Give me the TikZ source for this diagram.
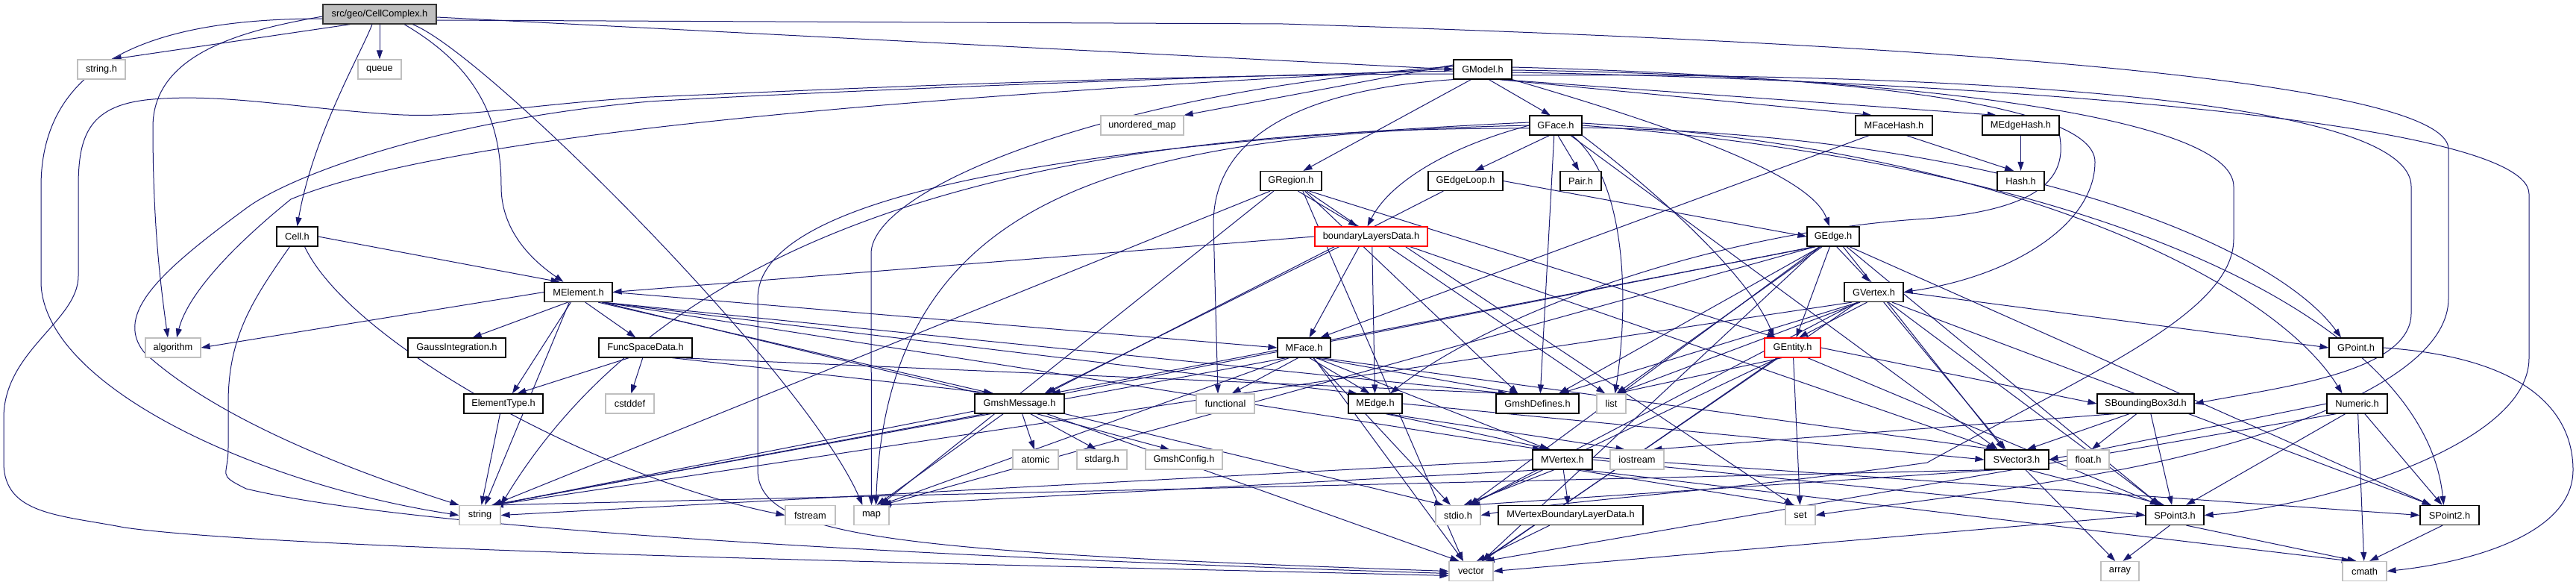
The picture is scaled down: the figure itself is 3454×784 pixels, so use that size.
\documentclass[tikz,border=0pt]{standalone}
\usepackage{fontspec}
\setmainfont{Liberation Sans}
\usetikzlibrary{arrows.meta,backgrounds,calc}
\definecolor{edgecol}{RGB}{25,25,112}
\definecolor{sysgray}{RGB}{191,191,191}
\definecolor{rootfill}{RGB}{191,191,191}
\tikzset{
  nd/.style={draw=black, fill=white, line width=1.2pt, minimum height=26pt, inner sep=0pt, font=\fontsize{12.8pt}{15pt}\selectfont, text=black},
  sys/.style={nd, draw=sysgray},
  redbox/.style={nd, draw=red},
  rootbox/.style={nd, fill=rootfill, draw=black!80},
  edge/.style={draw=edgecol, line width=1pt, -{Triangle[length=12pt,width=8pt]}},
}
\newcommand\ed[2]{\draw[edge] let \p1=(#1.south), \p2=(#2.north), \p3=(#1.south east), \p4=(#2.north east),
  \n1={(\x3-\x1-6)*((\x2-\x1)/(abs(\x2-\x1)+300))},
  \n2={(\x4-\x2-6)*((\x1-\x2)/(abs(\x1-\x2)+300))}
  in ($(#1.south)+(\n1,0)$) -- ($(#2.north)+(\n2,0)$);}
\begin{document}
\begin{tikzpicture}[x=1pt,y=-1pt]
\useasboundingbox (0,0) rectangle (3454,784);
% nodes
\node[rootbox, minimum width=152pt] (cc) at (509,19) {src/geo/CellComplex.h};
\node[sys, minimum width=64pt] (stringh) at (136,93) {string.h};
\node[sys, minimum width=58pt] (queue) at (509,93) {queue};
\node[nd, minimum width=78pt] (gmodel) at (1988,93) {GModel.h};
\node[sys, minimum width=111pt] (umap) at (1531.5,168) {unordered\_map};
\node[nd, minimum width=70pt] (gface) at (2086,168) {GFace.h};
\node[nd, minimum width=103pt] (mfacehash) at (2539.5,168) {MFaceHash.h};
\node[nd, minimum width=103pt] (medgehash) at (2709.5,168) {MEdgeHash.h};
\node[nd, minimum width=82pt] (gregion) at (1731,242.5) {GRegion.h};
\node[nd, minimum width=100pt] (gedgeloop) at (1965,242.5) {GEdgeLoop.h};
\node[nd, minimum width=55pt] (pair) at (2119.5,242.5) {Pair.h};
\node[nd, minimum width=63pt] (hash) at (2709.5,242.5) {Hash.h};
\node[nd, minimum width=55pt] (cell) at (398.5,317) {Cell.h};
\node[redbox, minimum width=151pt] (bld) at (1838.5,317) {boundaryLayersData.h};
\node[nd, minimum width=70pt] (gedge) at (2458,317) {GEdge.h};
\node[nd, minimum width=91pt] (melement) at (775.5,391.5) {MElement.h};
\node[nd, minimum width=79pt] (gvertex) at (2512.5,391.5) {GVertex.h};
\node[sys, minimum width=74pt] (algorithm) at (232,466) {algorithm};
\node[nd, minimum width=131pt] (gauss) at (612.5,466) {GaussIntegration.h};
\node[nd, minimum width=125pt] (funcspace) at (865.5,466) {FuncSpaceData.h};
\node[nd, minimum width=71pt] (mface) at (1748.5,466) {MFace.h};
\node[redbox, minimum width=75pt] (gentity) at (2403.5,466) {GEntity.h};
\node[nd, minimum width=72pt] (gpoint) at (3159,466) {GPoint.h};
\node[nd, minimum width=106pt] (elemtype) at (675,541) {ElementType.h};
\node[sys, minimum width=65pt] (cstddef) at (844.5,541) {cstddef};
\node[nd, minimum width=120pt] (gmshmsg) at (1367,541) {GmshMessage.h};
\node[sys, minimum width=78pt] (functional) at (1643,541) {functional};
\node[nd, minimum width=72pt] (medge) at (1844,541) {MEdge.h};
\node[nd, minimum width=111pt] (gmshdef) at (2061.5,541) {GmshDefines.h};
\node[sys, minimum width=39pt] (list) at (2160.5,541) {list};
\node[nd, minimum width=130pt] (sbbox) at (2877,541) {SBoundingBox3d.h};
\node[nd, minimum width=81pt] (numeric) at (3160.5,541) {Numeric.h};
\node[sys, minimum width=61pt] (atomic) at (1388.5,616) {atomic};
\node[sys, minimum width=67pt] (stdarg) at (1477.5,616) {stdarg.h};
\node[sys, minimum width=103pt] (gmshconfig) at (1587.5,616) {GmshConfig.h};
\node[nd, minimum width=80pt] (mvertex) at (2095,616) {MVertex.h};
\node[sys, minimum width=72pt] (iostream) at (2195,616) {iostream};
\node[nd, minimum width=86pt] (svector) at (2704,616) {SVector3.h};
\node[sys, minimum width=56pt] (floath) at (2800,616) {float.h};
\node[sys, minimum width=55pt] (string) at (643.5,690.5) {string};
\node[sys, minimum width=67pt] (fstream) at (1086.5,690.5) {fstream};
\node[sys, minimum width=47pt] (map) at (1168.5,690.5) {map};
\node[sys, minimum width=60pt] (stdio) at (1955,690.5) {stdio.h};
\node[nd, minimum width=194pt] (mvbld) at (2106,690.5) {MVertexBoundaryLayerData.h};
\node[sys, minimum width=40pt] (set) at (2414,690.5) {set};
\node[nd, minimum width=78pt] (spoint3) at (2916,690.5) {SPoint3.h};
\node[nd, minimum width=79pt] (spoint2) at (3284.5,690.5) {SPoint2.h};
\node[sys, minimum width=59pt] (vector) at (1972.5,765.5) {vector};
\node[sys, minimum width=51pt] (array) at (2842.5,765.5) {array};
\node[sys, minimum width=59pt] (cmath) at (3170.5,765.5) {cmath};
% edges
\begin{pgfonlayer}{background}
% CellComplex
\ed{cc}{stringh}
\ed{cc}{queue}
\draw[edge] ([xshift=-10]cc.south) .. controls (485,70) and (420,180) .. (cell.north);
\draw[edge] ([xshift=33]cc.south) .. controls (640,90) and (672,160) .. (672,250) .. controls (672,320) and (730,360) .. ([xshift=-20]melement.north);
\draw[edge] ([xshift=44]cc.south) .. controls (650,70) and (1080,500) .. ([xshift=-12]map.north);
\draw[edge] ([yshift=-4]cc.east) -- (gmodel.west);
\draw[edge] ([yshift=-8]cc.east) -- (1720,32) .. controls (2300,50) and (3283,90) .. (3283,200) -- (3283,400) .. controls (3283,520) and (3000,600) .. (2840,630) .. controls (2650,665) and (2500,680) .. (set.east);
\draw[edge] ([yshift=-3]cc.west) .. controls (330,40) and (205,70) .. (205,170) .. controls (205,300) and (215,380) .. ([xshift=-7]algorithm.north);
\draw[edge] ([yshift=-6]cc.west) .. controls (250,25) and (55,60) .. (55,250) -- (55,380) .. controls (60,520) and (350,650) .. (string.west);
% Cell
\draw[edge] (cell.east) -- ([xshift=-25]melement.north);
\draw[edge] ([xshift=-10]cell.south) .. controls (340,400) and (306,450) .. (306,540) -- (306,600) .. controls (306,640) and (290,635) .. (330,655) .. controls (600,720) and (1500,755) .. ([yshift=-3]vector.west);
\draw[edge] ([xshift=10]cell.south) .. controls (470,460) and (800,640) .. (fstream.west);
% MElement
\draw[edge] (melement.west) -- (algorithm.east);
\ed{melement}{gauss}
\ed{melement}{funcspace}
\ed{melement}{elemtype}
\ed{melement}{string}
\ed{melement}{gmshmsg}
\draw[edge] (melement.east) -- (mface.west);
\ed{melement}{medge}
\ed{melement}{mvertex}
\ed{melement}{gmshdef}
\ed{melement}{stdio}
% FuncSpaceData
\ed{funcspace}{elemtype}
\ed{funcspace}{cstddef}
\ed{funcspace}{gmshmsg}
\ed{funcspace}{gmshdef}
\ed{elemtype}{string}
% GmshMessage
\ed{gmshmsg}{atomic}
\ed{gmshmsg}{stdarg}
\ed{gmshmsg}{gmshconfig}
\ed{gmshmsg}{string}
\ed{gmshmsg}{map}
\ed{gmshmsg}{vector}
% GModel
\draw[edge] ([yshift=6]gmodel.west) -- (umap.north east);
\ed{gmodel}{gface}
\ed{gmodel}{mfacehash}
\ed{gmodel}{medgehash}
\ed{gmodel}{gregion}
\draw[edge] (gmodel.south east) .. controls (2280,180) and (2430,240) .. ([xshift=-5]gedge.north);
\draw[edge] ([yshift=3]gmodel.east) .. controls (2400,100) and (2809,130) .. (2809,217) .. controls (2809,300) and (2700,370) .. (gvertex.east);
\draw[edge] (gmodel.south west) .. controls (1750,120) and (1627,180) .. (1627,300) -- ([xshift=-10]functional.north);
\draw[edge] ([yshift=4]gmodel.west) .. controls (1500,120) and (1168,250) .. (1168,340) -- (map.north);
\draw[edge] ([yshift=-2]gmodel.west) .. controls (1500,105) and (1000,128) .. (871,136) .. controls (600,160) and (400,230) .. (333,277) .. controls (220,360) and (150,420) .. (194,473) .. controls (300,570) and (500,640) .. (string.north west);
\draw[edge] ([yshift=-6]gmodel.west) .. controls (1500,100) and (1000,125) .. (871,130) .. controls (700,140) and (620,160) .. (522,153) .. controls (400,145) and (300,125) .. (205,133) .. controls (120,140) and (105,180) .. (105,250) -- (105,370) .. controls (105,430) and (5,470) .. (5,560) -- (5,620) .. controls (5,690) and (80,690) .. (167,707) .. controls (400,740) and (1500,760) .. ([yshift=-6]vector.west);
\draw[edge] ([yshift=1]gmodel.west) .. controls (1200,130) and (600,180) .. (390,267) .. controls (300,340) and (250,400) .. ([xshift=5]algorithm.north);
\draw[edge] ([yshift=-8]gmodel.east) .. controls (2400,98) and (3233,110) .. (3233,250) -- (3233,420) .. controls (3233,500) and (3050,520) .. (sbbox.east);
\draw[edge] ([yshift=-4]gmodel.east) .. controls (2500,105) and (3391,150) .. (3391,260) -- (3391,480) .. controls (3391,600) and (3100,680) .. (spoint3.east);
\draw[edge] ([yshift=-1]gmodel.east) .. controls (2500,100) and (2995,150) .. (2995,250) -- (2995,320) .. controls (2995,420) and (2800,500) .. (2584,620) .. controls (2300,660) and (2100,670) .. (stdio.east);
% GFace
\ed{gface}{gedgeloop}
\ed{gface}{pair}
\draw[edge] (gface.west) .. controls (1930,200) and (1860,250) .. ([xshift=-5]bld.north);
\ed{gface}{gmshdef}
\draw[edge] ([xshift=22]gface.south) .. controls (2180,240) and (2185,400) .. ([xshift=5]list.north);
\draw[edge] (gface.south east) .. controls (2250,280) and (2350,380) .. ([xshift=-25]gentity.north);
\ed{gface}{svector}
\draw[edge] (gface.east) .. controls (2800,220) and (3250,420) .. ([xshift=-8]spoint2.north);
\draw[edge] ([yshift=3]gface.east) .. controls (2700,200) and (3050,380) .. ([xshift=-20]numeric.north);
\draw[edge] ([yshift=-3]gface.east) .. controls (2700,180) and (3050,330) .. ([xshift=-20]gpoint.north);
\draw[edge] ([yshift=-4]gface.west) .. controls (1400,170) and (900,300) .. (string.north east);
\draw[edge] (gface.west) .. controls (1500,180) and (1190,260) .. ([xshift=6]map.north);
\draw[edge] ([yshift=4]gface.west) .. controls (1500,190) and (1016,250) .. (1016,400) -- (1016,630) .. controls (1016,720) and (1200,740) .. (vector.west);
% GRegion
\ed{gregion}{bld}
\ed{gregion}{gentity}
\ed{gregion}{list}
\ed{gregion}{gmshdef}
\ed{gregion}{string}
\ed{gregion}{map}
\ed{gregion}{vector}
% boundaryLayersData
\draw[edge] (bld.west) -- (melement.east);
\ed{bld}{mface}
\ed{bld}{medge}
\ed{bld}{svector}
\ed{bld}{set}
\ed{bld}{gmshmsg}
% GEdge
\draw[edge] (gedgeloop.east) -- (gedge.west);
\ed{gedgeloop}{gmshmsg}
\ed{gedge}{gvertex}
\ed{gedge}{gentity}
\ed{gedge}{gmshdef}
\ed{gedge}{list}
\ed{gedge}{svector}
\ed{gedge}{spoint3}
\ed{gedge}{spoint2}
\ed{gedge}{vector}
\ed{gedge}{string}
\ed{gedge}{map}
\ed{gedge}{stdio}
\ed{gedge}{gmshmsg}
% GVertex
\ed{gvertex}{gentity}
\draw[edge] (gvertex.east) -- (gpoint.west);
\ed{gvertex}{gmshdef}
\ed{gvertex}{list}
\ed{gvertex}{svector}
\ed{gvertex}{spoint3}
\ed{gvertex}{spoint2}
\ed{gvertex}{vector}
\ed{gvertex}{string}
\ed{gvertex}{stdio}
% GEntity
\ed{gentity}{list}
\ed{gentity}{stdio}
\ed{gentity}{vector}
\ed{gentity}{set}
\ed{gentity}{spoint3}
\draw[edge] (gentity.east) -- (sbbox.west);
% MFace
\ed{mface}{medge}
\ed{mface}{mvertex}
\ed{mface}{gmshdef}
\ed{mface}{functional}
\ed{mface}{vector}
\ed{mface}{stdio}
\ed{mface}{svector}
\ed{mface}{string}
\ed{mface}{map}
% MEdge
\ed{medge}{mvertex}
\draw[edge] (medge.east) -- (svector.west);
\ed{medge}{iostream}
% MVertex
\ed{mvertex}{mvbld}
\ed{mvertex}{stdio}
\ed{mvertex}{set}
\draw[edge] (mvertex.east) -- (spoint3.west);
\draw[edge] ([yshift=3]mvertex.east) -- (spoint2.west);
\ed{mvertex}{cmath}
\draw[edge] (mvertex.west) -- (string.east);
\ed{mvertex}{map}
\ed{mvbld}{vector}
% SBoundingBox3d, Numeric
\ed{sbbox}{svector}
\ed{sbbox}{floath}
\ed{sbbox}{spoint3}
\ed{sbbox}{iostream}
\draw[edge] (numeric.west) -- (svector.east);
\ed{numeric}{spoint3}
\ed{numeric}{vector}
\ed{numeric}{cmath}
\ed{numeric}{spoint2}
% SVector3, SPoint3, SPoint2, GPoint
\ed{svector}{spoint3}
\ed{svector}{array}
\ed{svector}{stdio}
\ed{svector}{string}
\ed{spoint3}{array}
\ed{spoint3}{cmath}
\draw[edge] (spoint3.west) -- (vector.east);
\ed{spoint2}{cmath}
\draw[edge] (gpoint.east) .. controls (3400,480) and (3450,560) .. (3450,630) .. controls (3450,720) and (3300,755) .. (cmath.east);
% hashes
\ed{mfacehash}{mface}
\ed{mfacehash}{hash}
\ed{medgehash}{hash}
\draw[edge] (medgehash.south east) .. controls (2770,230) and (2750,280) .. (2584,293) .. controls (2300,310) and (2000,420) .. ([xshift=20]medge.north);
\end{pgfonlayer}
\end{tikzpicture}
\end{document}
